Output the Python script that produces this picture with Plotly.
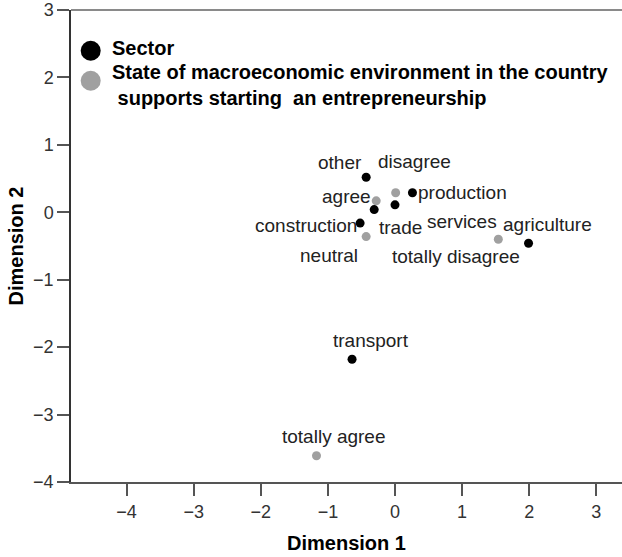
import plotly.graph_objects as go

# ---- data ----
sector_names = ["other", "production", "services", "trade", "construction", "agriculture", "transport"]
sector_x = [-0.43, 0.26, 0.00, -0.31, -0.52, 1.99, -0.64]
sector_y = [0.52, 0.29, 0.11, 0.04, -0.16, -0.46, -2.18]

attitude_names = ["disagree", "agree", "neutral", "totally disagree", "totally agree"]
attitude_x = [0.01, -0.28, -0.43, 1.54, -1.17]
attitude_y = [0.29, 0.17, -0.36, -0.40, -3.61]

x_ticks = [-4, -3, -2, -1, 0, 1, 2, 3]
y_ticks = [3, 2, 1, 0, -1, -2, -3, -4]

legend_labels = ["Sector",
                 "State of macroeconomic environment in the country<br> supports starting  an entrepreneurship"]

# ---- style ----
W, H = 622, 557
ML, MR, MT, MB = 71, 0, 10, 75
FONT = "Liberation Sans, Arial, sans-serif"
SECTOR_COLOR = "#000000"
ATT_COLOR = "#a0a0a0"
TEXT_COLOR = "#222222"

# label offsets in pixels (dx right, dy down)
sector_off = [(-26, -15), (50, 0), (67, 17), (26, 18), (-54, 2), (19, -19), (19, -19)]
attitude_off = [(19, -31), (-30, -4), (-37, 19), (-42, 17), (18, -19)]

fig = go.Figure()
fig.add_trace(go.Scatter(x=sector_x, y=sector_y, mode="markers", name="Sector",
                         marker=dict(color=SECTOR_COLOR, size=9), showlegend=False))
fig.add_trace(go.Scatter(x=attitude_x, y=attitude_y, mode="markers", name="State",
                         marker=dict(color=ATT_COLOR, size=9), showlegend=False))

annotations = []
for names, xs, ys, offs in [(sector_names, sector_x, sector_y, sector_off),
                            (attitude_names, attitude_x, attitude_y, attitude_off)]:
    for n, x, y, (dx, dy) in zip(names, xs, ys, offs):
        annotations.append(dict(x=x, y=y, xref="x", yref="y", text=n, showarrow=False,
                                xanchor="center", yanchor="middle", xshift=dx, yshift=-dy,
                                font=dict(family=FONT, size=19, color=TEXT_COLOR)))

pw = W - ML - MR
ph = H - MT - MB


def px_x(p):
    return (p - ML) / pw


def px_y(p):
    return (H - MB - p) / ph


# custom legend
shapes = []
leg_marker_y = [50.7, 80.7]
leg_text_y = [48, 85]
for col, my in zip([SECTOR_COLOR, ATT_COLOR], leg_marker_y):
    shapes.append(dict(type="circle", xref="paper", yref="paper",
                       xsizemode="pixel", ysizemode="pixel",
                       xanchor=px_x(90.7), yanchor=px_y(my),
                       x0=-10, x1=10, y0=-10, y1=10,
                       fillcolor=col, line=dict(width=0)))
for txt, ty in zip(legend_labels, leg_text_y):
    annotations.append(dict(x=px_x(110), y=px_y(ty), xref="paper", yref="paper",
                            text="<b>" + txt + "</b>", showarrow=False, align="left",
                            xanchor="left", yanchor="middle",
                            font=dict(family=FONT, size=20, color="#000000")))

# top frame line
shapes.append(dict(type="line", xref="paper", yref="paper", x0=0, x1=1, y0=1, y1=1,
                   line=dict(color="#8a8a8a", width=2)))

fig.update_layout(
    width=W, height=H,
    margin=dict(l=ML, r=MR, t=MT, b=MB),
    paper_bgcolor="white", plot_bgcolor="white",
    font=dict(family=FONT, color="#333333"),
    annotations=annotations, shapes=shapes,
    xaxis=dict(range=[-(395 - ML) / 67.1, (W - 395) / 67.1], tickvals=x_ticks,
               showgrid=False, zeroline=False, showline=True, linecolor="#555555", linewidth=2,
               ticks="outside", ticklen=12, tickwidth=2, tickcolor="#555555",
               tickfont=dict(size=18, color="#333333"),
               title=dict(text="<b>Dimension 1</b>", font=dict(size=20, color="#000000"), standoff=15)),
    yaxis=dict(range=[-4, 3], tickvals=y_ticks,
               showgrid=False, zeroline=False, showline=True, linecolor="#333333", linewidth=1.5,
               ticks="outside", ticklen=12, tickwidth=2, tickcolor="#555555",
               tickfont=dict(size=18, color="#333333"),
               title=dict(text="<b>Dimension 2</b>", font=dict(size=20, color="#000000"), standoff=4)),
)

fig.write_html("out.html", config={"displayModeBar": False},
               post_script="document.body.style.margin='0';document.body.style.overflow='hidden';")
